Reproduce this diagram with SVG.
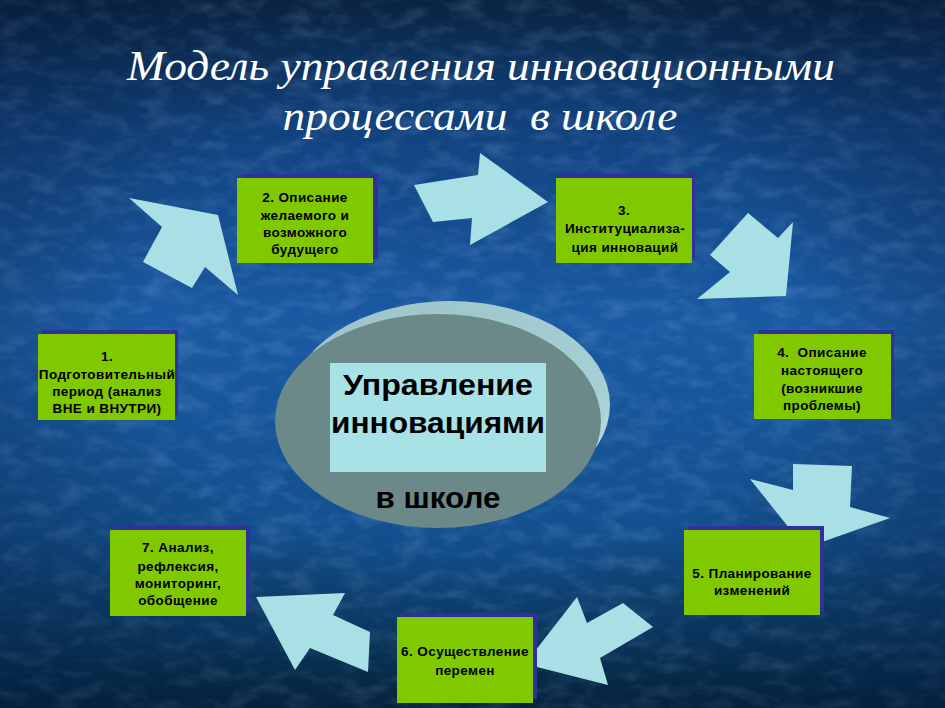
<svg xmlns="http://www.w3.org/2000/svg" width="945" height="708" viewBox="0 0 945 708">
<defs>
<linearGradient id="bg" x1="0" y1="0" x2="0" y2="1">
<stop offset="0" stop-color="#0a2747"/>
<stop offset="0.18" stop-color="#11427e"/>
<stop offset="0.45" stop-color="#1a5aa2"/>
<stop offset="0.75" stop-color="#13508f"/>
<stop offset="0.9" stop-color="#0b3c66"/>
<stop offset="1" stop-color="#062a45"/>
</linearGradient>
<radialGradient id="vig" cx="0.5" cy="0.45" r="0.7">
<stop offset="0.5" stop-color="#000" stop-opacity="0"/>
<stop offset="1" stop-color="#001030" stop-opacity="0.35"/>
</radialGradient>
<filter id="tex" x="0" y="0" width="100%" height="100%">
<feTurbulence type="fractalNoise" baseFrequency="0.035 0.07" numOctaves="3" seed="7"/>
<feColorMatrix type="matrix" values="0 0 0 0 0.35  0 0 0 0 0.55  0 0 0 0 0.9  0.45 0 0 0 -0.2"/>
</filter>
<linearGradient id="back" x1="0" y1="0" x2="1" y2="1">
<stop offset="0" stop-color="#9cc4c8"/>
<stop offset="0.7" stop-color="#a6cfd3"/>
<stop offset="1" stop-color="#c6e8ea"/>
</linearGradient>
<style>
.box{fill:#80c800}
.sh{fill:#30309c}
.arr{fill:#a9e0e6}
.t{font-family:"Liberation Sans",Arial,sans-serif;font-weight:bold;font-size:13.5px;letter-spacing:0.4px;fill:#000;text-anchor:middle}
.c{font-family:"Liberation Sans",Arial,sans-serif;font-size:29px;fill:#000;text-anchor:middle}
.ttl{font-family:"Liberation Serif","Times New Roman",serif;font-style:italic;font-size:42px;fill:#fff;text-anchor:middle}
</style>
</defs>
<rect width="945" height="708" fill="url(#bg)"/>
<rect width="945" height="708" filter="url(#tex)"/>
<rect width="945" height="708" fill="url(#vig)"/>

<g id="title">
<text class="ttl" x="481" y="80" textLength="708" lengthAdjust="spacingAndGlyphs">Модель управления инновационными</text>
<text class="ttl" x="480" y="130" textLength="395" lengthAdjust="spacingAndGlyphs" xml:space="preserve">процессами  в школе</text>
</g>

<g id="center">
<ellipse cx="450" cy="405" rx="160" ry="104" fill="url(#back)"/>
<ellipse cx="438" cy="421" rx="163" ry="107" fill="#6b8989"/>
<rect x="330" y="363" width="216" height="109" fill="#a8e2e6"/>
<text class="c" x="438" y="395" font-weight="bold" textLength="190" lengthAdjust="spacingAndGlyphs">Управление</text>
<text class="c" x="438" y="433" font-weight="bold" textLength="214" lengthAdjust="spacingAndGlyphs">инновациями</text>
<text class="c" x="438" y="508" font-weight="bold" textLength="125" lengthAdjust="spacingAndGlyphs">в школе</text>
</g>

<g id="connectors">
<polygon class="arr" points="129,198 218,215 238,295 205,267 192,288 143,262 162,227"/>
<polygon class="arr" points="480,153 548,202 470,245 472,218 433,222 414,185 478,175"/>
<polygon class="arr" points="748,213 778,238 793,222 786,296 697,299 730,272 710,255"/>
<polygon class="arr" points="793,464 852,466 850,507 890,518 805,548 750,479 793,490"/>
<polygon class="arr" points="577,597 587,623 623,603 653,627 600,658 608,685 525,664"/>
<polygon class="arr" points="256,597 345,593 333,615 370,632 368,672 310,648 295,670"/>
</g>

<g id="node1">
<rect class="sh" x="42" y="330" width="136" height="86"/>
<rect class="box" x="38" y="334" width="137" height="86"/>
<text class="t" x="107" y="361">1.</text>
<text class="t" x="107" y="379" font-size="11.5" letter-spacing="0.9">Подготовительный</text>
<text class="t" x="107" y="396">период (анализ</text>
<text class="t" x="107" y="413">ВНЕ и ВНУТРИ)</text>
</g>

<g id="node2">
<rect class="sh" x="242" y="174" width="136" height="85"/>
<rect class="box" x="237" y="178" width="136" height="85"/>
<text class="t" x="305" y="202">2. Описание</text>
<text class="t" x="305" y="220">желаемого и</text>
<text class="t" x="305" y="237">возможного</text>
<text class="t" x="305" y="254">будущего</text>
</g>

<g id="node3">
<rect class="sh" x="560" y="174" width="135" height="85"/>
<rect class="box" x="556" y="178" width="136" height="85"/>
<text class="t" x="624" y="215">3.</text>
<text class="t" x="625" y="233" letter-spacing="0.6">Институциализа-</text>
<text class="t" x="625" y="252" letter-spacing="0.6">ция инноваций</text>
</g>

<g id="node4">
<rect class="sh" x="758" y="330" width="136" height="85"/>
<rect class="box" x="754" y="334" width="137" height="85"/>
<text class="t" x="822" y="357" xml:space="preserve">4.  Описание</text>
<text class="t" x="822" y="375">настоящего</text>
<text class="t" x="822" y="393">(возникшие</text>
<text class="t" x="822" y="410">проблемы)</text>
</g>

<g id="node5">
<rect class="sh" x="688" y="526" width="136" height="85"/>
<rect class="box" x="684" y="530" width="136" height="85"/>
<text class="t" x="752" y="578">5. Планирование</text>
<text class="t" x="752" y="595">изменений</text>
</g>

<g id="node6">
<rect class="sh" x="401" y="613" width="136" height="86"/>
<rect class="box" x="397" y="617" width="136" height="86"/>
<text class="t" x="465" y="656">6. Осуществление</text>
<text class="t" x="465" y="675">перемен</text>
</g>

<g id="node7">
<rect class="sh" x="114" y="526" width="136" height="86"/>
<rect class="box" x="110" y="530" width="136" height="86"/>
<text class="t" x="178" y="552">7. Анализ,</text>
<text class="t" x="178" y="571">рефлексия,</text>
<text class="t" x="178" y="588">мониторинг,</text>
<text class="t" x="178" y="605">обобщение</text>
</g>
</svg>
